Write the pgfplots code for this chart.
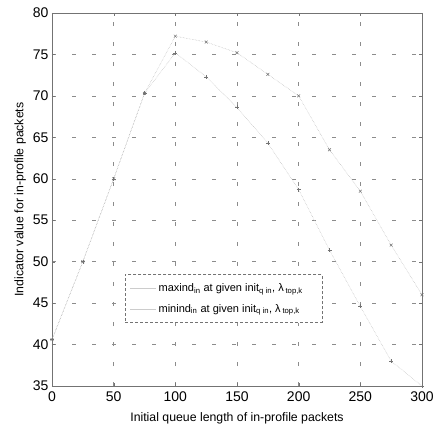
\documentclass[border=0pt]{standalone}
\usepackage{pgfplots}
\pgfplotsset{compat=1.18}
\usepackage{fontspec}
\setmainfont{Liberation Sans}
\begin{document}
\begin{tikzpicture}
\begin{axis}[
  scale only axis,
  width=370pt, height=373pt,
  xmin=0, xmax=300, ymin=35, ymax=80,
  xtick={0,50,100,150,200,250,300},
  ytick={35,40,45,50,55,60,65,70,75,80},
  tick align=inside,
  major tick length=3pt,
  axis line style={black!55, line width=0.6pt},
  tick style={black!55},
  grid=major,
  major grid style={black!45, dash pattern=on 4pt off 16pt, line width=0.5pt},
  /pgf/number format/assume math mode=true,
  ticklabel style={font=\fontsize{14}{16}\selectfont},
  xticklabel style={yshift=-2pt},
  label style={font=\fontsize{12.3}{14}\selectfont},
  xlabel={Initial queue length of in-profile packets},
  ylabel={Indicator value for in-profile packets},
  xlabel style={yshift=-4pt},
  ylabel style={yshift=0pt},
  legend style={at={(0.197,0.299)}, anchor=north west, draw=black!55, dash pattern=on 3pt off 2pt,
    fill=white, font=\fontsize{11}{13}\selectfont, row sep=7pt, inner xsep=5pt, inner ysep=7pt},
  legend cell align=left,
  legend image code/.code={\draw[solid, black!20] (0pt,0pt) -- (26pt,0pt);},
]
\addplot[black!28, densely dotted, line width=0.5pt, mark=x, mark size=2pt, mark options={solid, black!55}]
 coordinates {(0,40.6) (25,50) (50,60) (75,70.3) (100,77.2) (125,76.5) (150,75.2) (175,72.6) (200,70) (225,63.5) (250,58.5) (275,52) (300,46)};
\addlegendentry{maxind\textsubscript{in} at given init\textsubscript{q in}, λ\,\textsubscript{top,k}\hspace*{12pt}}
\addplot[black!28, densely dotted, line width=0.5pt, mark=+, mark size=2pt, mark options={solid, black!55}]
 coordinates {(0,40.6) (25,50) (50,60) (75,70.3) (100,75.2) (125,72.3) (150,68.6) (175,64.3) (200,58.7) (225,51.4) (250,44.6) (275,38) (300,35)};
\addlegendentry{minind\textsubscript{in} at given init\textsubscript{q in}, λ\,\textsubscript{top,k}\hspace*{12pt}}
\end{axis}
\path (current axis.south west) ++(-52pt,-47pt) rectangle ([xshift=24pt,yshift=13pt]current axis.north east);
\end{tikzpicture}
\end{document}
